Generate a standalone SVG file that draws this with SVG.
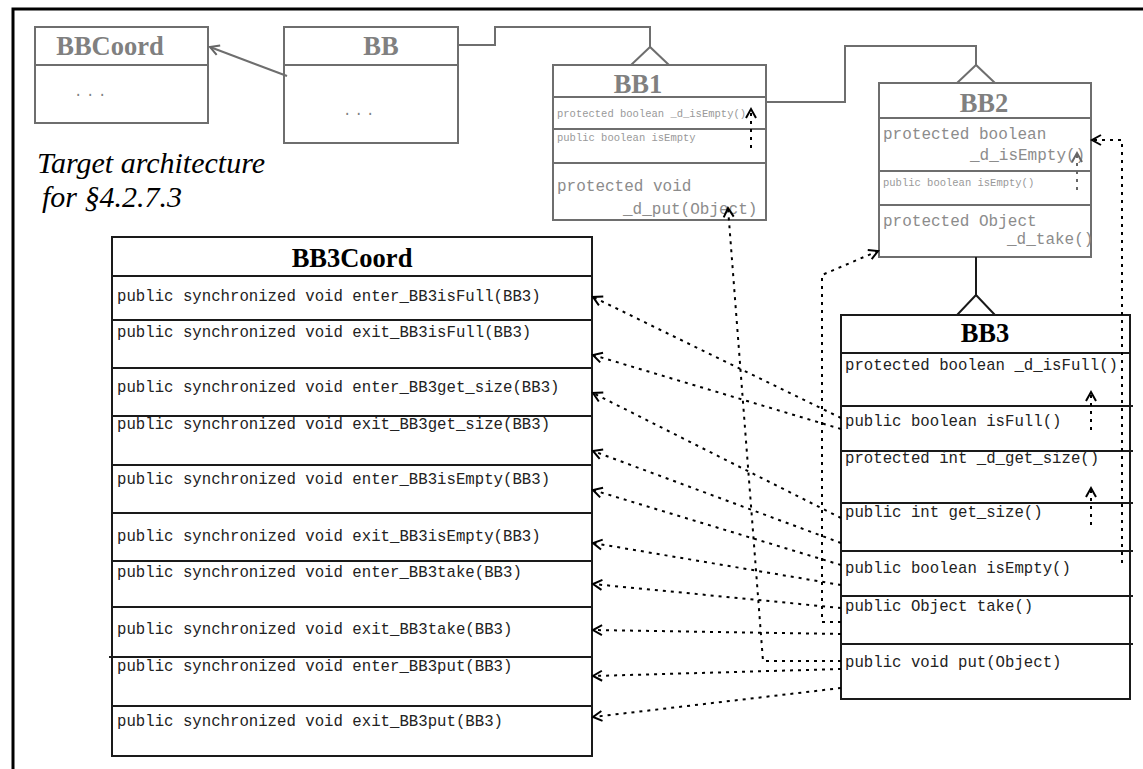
<svg xmlns="http://www.w3.org/2000/svg" width="1143" height="769" viewBox="0 0 1143 769">
<style>
.g{fill:#fff;stroke:#6e6e6e;stroke-width:2}
.k{fill:#fff;stroke:#1a1a1a;stroke-width:2}
.gl{fill:none;stroke:#6e6e6e;stroke-width:2}
.kl{fill:none;stroke:#1a1a1a;stroke-width:2}
.tg{font-family:"Liberation Serif",serif;font-weight:bold;font-size:26.5px;fill:#808080}
.tk{font-family:"Liberation Serif",serif;font-weight:bold;font-size:26.5px;fill:#000}
.m{font-family:"Liberation Mono",monospace;font-size:15.7px;fill:#222}
.mg{font-family:"Liberation Mono",monospace;font-size:16px;fill:#8c8c8c}
.ms{font-family:"Liberation Mono",monospace;font-size:10.5px;fill:#999}
.dots{font-family:"Liberation Mono",monospace;font-size:14px;fill:#808080}
.it{font-family:"Liberation Serif",serif;font-style:italic;font-size:30px;fill:#000}
.d{fill:none;stroke:#000;stroke-width:2;stroke-dasharray:3 5}
.dg{fill:none;stroke:#666;stroke-width:2;stroke-dasharray:3 5}
</style>
<defs>
<marker id="a" markerUnits="userSpaceOnUse" markerWidth="14" markerHeight="14" refX="9" refY="5" orient="auto" overflow="visible">
<path d="M0,0 L9,5 L0,10" fill="none" stroke="#000" stroke-width="2"/>
</marker>
<marker id="ag" markerUnits="userSpaceOnUse" markerWidth="14" markerHeight="14" refX="9" refY="5" orient="auto" overflow="visible">
<path d="M0,0 L9,5 L0,10" fill="none" stroke="#666" stroke-width="2"/>
</marker>
</defs>
<rect width="1143" height="769" fill="#fff"/>
<path d="M13,769 V9 H1143" fill="none" stroke="#000" stroke-width="3"/>

<g id="BBCoord">
<rect class="g" x="35" y="27" width="173" height="96"/>
<line class="gl" x1="35" y1="65" x2="208" y2="65"/>
<text class="tg" x="110" y="55" text-anchor="middle">BBCoord</text>
<text class="dots" x="74" y="96" letter-spacing="3.6">...</text>
</g>

<g id="BB">
<rect class="g" x="284" y="27" width="174" height="116"/>
<line class="gl" x1="284" y1="65" x2="458" y2="65"/>
<text class="tg" x="381" y="55" text-anchor="middle">BB</text>
<text class="dots" x="343" y="115" letter-spacing="3.1">...</text>
</g>

<g id="BB1">
<rect class="g" x="553" y="65" width="213" height="155"/>
<line class="gl" x1="553" y1="97" x2="766" y2="97"/>
<line class="gl" x1="553" y1="129" x2="766" y2="129"/>
<line class="gl" x1="553" y1="163" x2="766" y2="163"/>
<text class="tg" x="638" y="93" text-anchor="middle">BB1</text>
<text class="ms" x="557" y="117">protected boolean _d_isEmpty()</text>
<text class="ms" x="557" y="141">public boolean isEmpty</text>
<text class="mg" x="557" y="191">protected void</text>
<text class="mg" x="623" y="214">_d_put(Object)</text>
</g>

<g id="BB2">
<rect class="g" x="879" y="83" width="212" height="174"/>
<line class="gl" x1="879" y1="118" x2="1091" y2="118"/>
<line class="gl" x1="879" y1="171" x2="1091" y2="171"/>
<line class="gl" x1="879" y1="205" x2="1091" y2="205"/>
<text class="tg" x="984" y="112" text-anchor="middle">BB2</text>
<text class="mg" x="883" y="139">protected boolean</text>
<text class="mg" x="970" y="160">_d_isEmpty()</text>
<text class="ms" x="883" y="186">public boolean isEmpty()</text>
<text class="mg" x="883" y="226">protected Object</text>
<text class="mg" x="1007" y="244">_d_take()</text>
</g>

<g id="BB3">
<rect class="k" x="841" y="315" width="289" height="384"/>
<line class="kl" x1="841" y1="353" x2="1130" y2="353"/>
<line class="kl" x1="841" y1="406" x2="1133" y2="406"/>
<line class="kl" x1="841" y1="451" x2="1133" y2="451"/>
<line class="kl" x1="841" y1="503" x2="1133" y2="503"/>
<line class="kl" x1="841" y1="551" x2="1133" y2="551"/>
<line class="kl" x1="841" y1="596" x2="1133" y2="596"/>
<line class="kl" x1="841" y1="644" x2="1133" y2="644"/>
<text class="tk" x="985" y="342" text-anchor="middle">BB3</text>
<text class="m" x="845" y="370">protected boolean _d_isFull()</text>
<text class="m" x="845" y="426">public boolean isFull()</text>
<text class="m" x="845" y="463">protected int _d_get_size()</text>
<text class="m" x="845" y="517">public int get_size()</text>
<text class="m" x="845" y="573">public boolean isEmpty()</text>
<text class="m" x="845" y="611">public Object take()</text>
<text class="m" x="845" y="667">public void put(Object)</text>
</g>

<g id="BB3Coord">
<rect class="k" x="112" y="237" width="480" height="519"/>
<line class="kl" x1="112" y1="276" x2="592" y2="276"/>
<line class="kl" x1="112" y1="320" x2="592" y2="320"/>
<line class="kl" x1="112" y1="368" x2="592" y2="368"/>
<line class="kl" x1="112" y1="416" x2="592" y2="416"/>
<line class="kl" x1="112" y1="465" x2="592" y2="465"/>
<line class="kl" x1="112" y1="513" x2="592" y2="513"/>
<line class="kl" x1="112" y1="561" x2="592" y2="561"/>
<line class="kl" x1="112" y1="607" x2="592" y2="607"/>
<line class="kl" x1="109" y1="657" x2="592" y2="657"/>
<line class="kl" x1="112" y1="706" x2="592" y2="706"/>
<text class="tk" x="352" y="267" text-anchor="middle">BB3Coord</text>
<text class="m" x="117" y="301">public synchronized void enter_BB3isFull(BB3)</text>
<text class="m" x="117" y="337">public synchronized void exit_BB3isFull(BB3)</text>
<text class="m" x="117" y="392">public synchronized void enter_BB3get_size(BB3)</text>
<text class="m" x="117" y="429">public synchronized void exit_BB3get_size(BB3)</text>
<text class="m" x="117" y="484">public synchronized void enter_BB3isEmpty(BB3)</text>
<text class="m" x="117" y="541">public synchronized void exit_BB3isEmpty(BB3)</text>
<text class="m" x="117" y="577">public synchronized void enter_BB3take(BB3)</text>
<text class="m" x="117" y="634">public synchronized void exit_BB3take(BB3)</text>
<text class="m" x="117" y="671">public synchronized void enter_BB3put(BB3)</text>
<text class="m" x="117" y="726">public synchronized void exit_BB3put(BB3)</text>
</g>

<g id="caption">
<text class="it" x="37" y="173">Target architecture</text>
<text class="it" x="42" y="207">for §4.2.7.3</text>
</g>

<g id="connectors">
<line class="gl" x1="287" y1="76" x2="210" y2="47" marker-end="url(#ag)"/>
<polyline class="gl" points="458,45 495,45 495,27 650,27 650,47"/>
<polygon class="g" points="650,47 631,65 669,65"/>
<polyline class="gl" points="766,102 845,102 845,46 976,46 976,65"/>
<polygon class="g" points="976,65 957,83 995,83"/>
<line class="kl" x1="976" y1="257" x2="976" y2="295"/>
<polygon class="k" points="976,295 957,315 995,315"/>

<line class="d" x1="751" y1="148" x2="751" y2="109" marker-end="url(#a)"/>
<polyline class="d" points="841,661 763,661 728,208" marker-end="url(#a)"/>
<line class="dg" x1="1077" y1="190" x2="1077" y2="153" marker-end="url(#ag)"/>
<polyline class="d" points="1122,563 1122,140 1092,140" marker-end="url(#a)"/>
<line class="d" x1="1091" y1="430" x2="1091" y2="392" marker-end="url(#a)"/>
<line class="d" x1="1091" y1="525" x2="1091" y2="488" marker-end="url(#a)"/>
<polyline class="d" points="841,622 822,622 822,275 878,251" marker-end="url(#a)"/>

<line class="d" x1="841" y1="418" x2="593" y2="297" marker-end="url(#a)"/>
<line class="d" x1="841" y1="429" x2="593" y2="355" marker-end="url(#a)"/>
<line class="d" x1="841" y1="518" x2="593" y2="393" marker-end="url(#a)"/>
<line class="d" x1="841" y1="543" x2="593" y2="451" marker-end="url(#a)"/>
<line class="d" x1="841" y1="565" x2="593" y2="490" marker-end="url(#a)"/>
<line class="d" x1="841" y1="585" x2="593" y2="543" marker-end="url(#a)"/>
<line class="d" x1="841" y1="608" x2="593" y2="584" marker-end="url(#a)"/>
<line class="d" x1="841" y1="634" x2="593" y2="630" marker-end="url(#a)"/>
<line class="d" x1="841" y1="669" x2="593" y2="676" marker-end="url(#a)"/>
<line class="d" x1="841" y1="688" x2="593" y2="717" marker-end="url(#a)"/>
</g>
</svg>
